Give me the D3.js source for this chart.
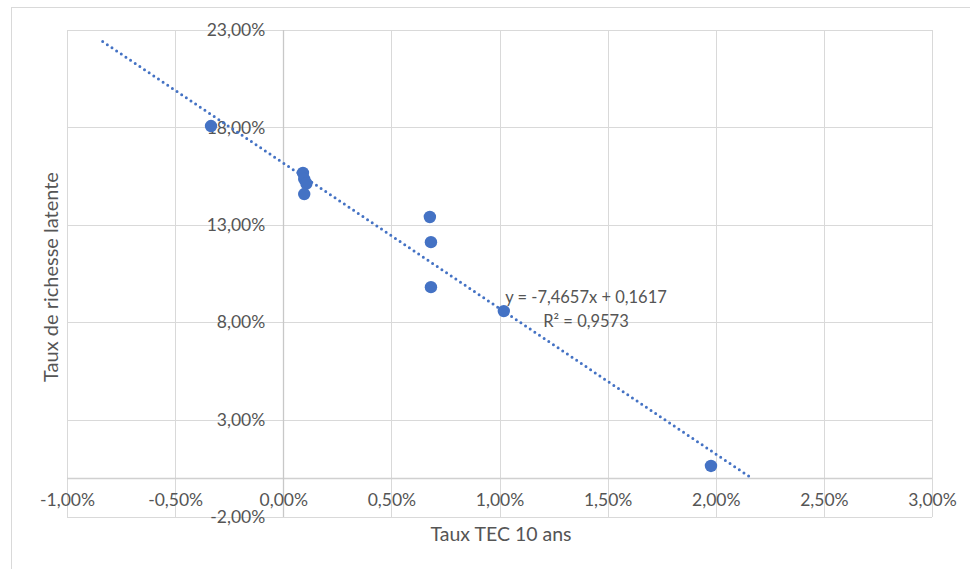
<!DOCTYPE html>
<html>
<head>
<meta charset="utf-8">
<script src="https://cdn.jsdelivr.net/npm/d3@7/dist/d3.min.js"></script>
<style>
  html, body { margin: 0; padding: 0; background: #fff; }
  svg { display: block; }
  text { font-family: Lato, "Open Sans", sans-serif; fill: #555555; }
</style>
</head>
<body>
<svg id="chart" width="970" height="569"></svg>
<script>
// ---- Data ----
const tauxTEC = [-0.00334, 0.00091, 0.00097, 0.00107, 0.00097, 0.00678, 0.00683, 0.00683, 0.01020, 0.01978];
const tauxRichesse = [0.1807, 0.1566, 0.1535, 0.1512, 0.1458, 0.1340, 0.1211, 0.0980, 0.0857, 0.0062];
const xTicks = [-0.01, -0.005, 0, 0.005, 0.01, 0.015, 0.02, 0.025, 0.03];
const yTicks = [-0.02, 0.03, 0.08, 0.13, 0.18, 0.23];
const trendSlope = -7.4657;
const trendIntercept = 0.1617;
const trendXRange = [-0.00835, 0.02166];
const equationLines = ["y = -7,4657x + 0,1617", "R² = 0,9573"];
const xTitle = "Taux TEC 10 ans";
const yTitle = "Taux de richesse latente";

// ---- Setup ----
const svg = d3.select("#chart");
const W = 970, H = 569;
const plot = { left: 67, right: 932, top: 30, bottom: 517 };
const x = d3.scaleLinear().domain([-0.01, 0.03]).range([plot.left, plot.right]);
const y = d3.scaleLinear().domain([-0.02, 0.23]).range([plot.bottom, plot.top]);
const locale = d3.formatLocale({ decimal: ",", thousands: " ", grouping: [3], currency: ["", " €"], minus: "-" });
const pct = locale.format(".2%");
const blue = "#4472C4";

// Outer chart border
svg.append("rect")
  .attr("x", 11.5).attr("y", 7.5)
  .attr("width", W + 20).attr("height", H + 20)
  .attr("fill", "none").attr("stroke", "#d9d9d9").attr("stroke-width", 1);

// Gridlines
const grid = svg.append("g").attr("class", "grid");
grid.selectAll("line.v").data(xTicks).enter().append("line")
  .attr("x1", d => Math.round(x(d)) + 0.5).attr("x2", d => Math.round(x(d)) + 0.5)
  .attr("y1", plot.top).attr("y2", plot.bottom)
  .attr("stroke", "#d9d9d9").attr("stroke-width", 1);
grid.selectAll("line.h").data(yTicks).enter().append("line")
  .attr("x1", plot.left).attr("x2", plot.right)
  .attr("y1", d => Math.round(y(d)) + 0.5).attr("y2", d => Math.round(y(d)) + 0.5)
  .attr("stroke", "#d9d9d9").attr("stroke-width", 1);

// Axis lines at zero
svg.append("line")
  .attr("x1", plot.left).attr("x2", plot.right)
  .attr("y1", Math.round(y(0)) + 0.5).attr("y2", Math.round(y(0)) + 0.5)
  .attr("stroke", "#d0d0d0").attr("stroke-width", 1.3);
svg.append("line")
  .attr("x1", Math.round(x(0)) + 0.5).attr("x2", Math.round(x(0)) + 0.5)
  .attr("y1", plot.top).attr("y2", plot.bottom)
  .attr("stroke", "#c8c8c8").attr("stroke-width", 1.3);

// Axes (labels only)
const xAxis = svg.append("g")
  .attr("transform", `translate(0,${y(0)})`)
  .call(d3.axisBottom(x).tickValues(xTicks).tickFormat(pct).tickSize(0).tickPadding(16));
xAxis.select(".domain").remove();
xAxis.selectAll("text").style("font-size", "17.5px").style("fill", "#555555").style("font-family", "Lato, sans-serif");

const yAxis = svg.append("g")
  .attr("transform", `translate(${x(0)},0)`)
  .call(d3.axisLeft(y).tickValues(yTicks).tickFormat(pct).tickSize(0).tickPadding(18));
yAxis.select(".domain").remove();
yAxis.selectAll("text").style("font-size", "17.5px").style("fill", "#555555").style("font-family", "Lato, sans-serif");

// Trendline
const trendLine = d3.line().x(d => x(d)).y(d => y(trendSlope * d + trendIntercept));
svg.append("path")
  .datum(trendXRange)
  .attr("d", trendLine)
  .attr("fill", "none")
  .attr("stroke", blue)
  .attr("stroke-width", 3)
  .attr("stroke-linecap", "round")
  .attr("stroke-dasharray", "0 5.6");

// Points
svg.append("g").selectAll("circle")
  .data(tauxTEC.map((v, i) => [v, tauxRichesse[i]]))
  .enter().append("circle")
  .attr("cx", d => x(d[0])).attr("cy", d => y(d[1]))
  .attr("r", 6.2)
  .attr("fill", blue);

// Equation label
const eq = svg.append("text")
  .attr("x", 586).attr("y", 303)
  .attr("text-anchor", "middle")
  .style("font-size", "16.5px");
eq.selectAll("tspan").data(equationLines).enter().append("tspan")
  .attr("x", 586).attr("dy", (d, i) => i === 0 ? 0 : 23.5)
  .text(d => d);

// Axis titles
svg.append("text")
  .attr("x", 501).attr("y", 541)
  .attr("text-anchor", "middle")
  .style("font-size", "19.5px")
  .text(xTitle);
svg.append("text")
  .attr("transform", "translate(58,277) rotate(-90)")
  .attr("text-anchor", "middle")
  .style("font-size", "20px")
  .text(yTitle);
</script>
</body>
</html>
